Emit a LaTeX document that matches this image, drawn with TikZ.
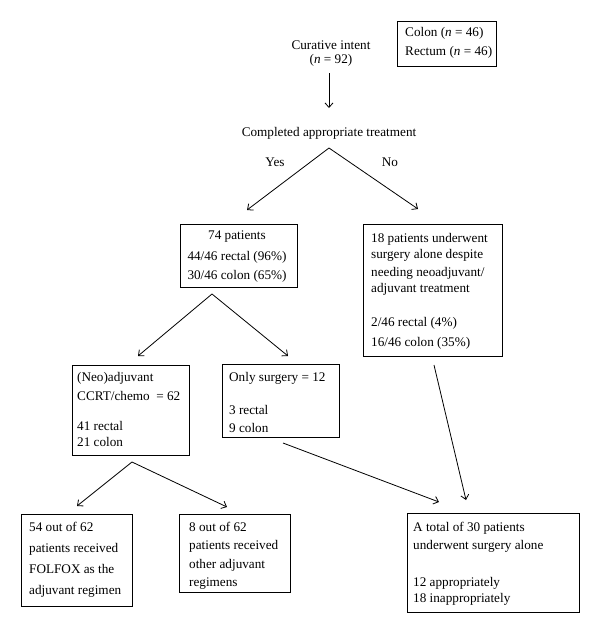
\documentclass[tikz,border=0pt]{standalone}
\usepackage{fontspec}
\setmainfont{Liberation Serif}
\usetikzlibrary{arrows.meta}
\begin{document}
\begin{tikzpicture}[x=1pt,y=-1pt,
  box/.style={draw, line width=0.9pt, inner sep=0pt, anchor=north west},
  txt/.style={inner sep=0pt, anchor=north west, align=left, font=\fontsize{13.2}{17}\selectfont},
  lbl/.style={inner sep=0pt, font=\fontsize{13.2}{17}\selectfont},
  arr/.style={-{Straight Barb[length=4.5pt,width=8pt]}, line width=0.8pt},
  ln/.style={line width=0.8pt}]
\useasboundingbox (0,0) rectangle (600,633);

% boxes
\node[box, minimum width=99pt, minimum height=45pt] (bcr) at (397,21) {};
\node[box, minimum width=117pt, minimum height=63pt] (b74) at (180,224) {};
\node[box, minimum width=139pt, minimum height=132pt] (b18) at (363,224) {};
\node[box, minimum width=117pt, minimum height=90pt] (bneo) at (72,365) {};
\node[box, minimum width=117pt, minimum height=73pt] (bonly) at (222,364) {};
\node[box, minimum width=111pt, minimum height=92pt] (b54) at (21,514) {};
\node[box, minimum width=111pt, minimum height=78pt] (b8) at (179,514) {};
\node[box, minimum width=172pt, minimum height=99pt] (btot) at (407,513) {};

% texts
\node[txt] (tcr) at (405,24.1) {\strut Colon (\textit{n} = 46)\\[2pt]Rectum (\textit{n} = 46)};
\node[txt, anchor=north, align=center] (tcur) at (331,37.1) {\strut Curative intent\\[-3pt](\textit{n} = 92)};
\node[lbl, anchor=base] (tcomp) at (329,136.5) {Completed appropriate treatment};
\node[lbl, anchor=base] (tyes) at (275,166) {Yes};
\node[lbl, anchor=base] (tno) at (390,166) {No};
\node[txt, anchor=north, align=center] (t74) at (237,227.1) {\strut 74 patients\\[4pt]44/46 rectal (96\%)\\[2pt]30/46 colon (65\%)};
\node[txt] (t18) at (371,230.1) {\strut 18 patients underwent\\[-1pt]surgery alone despite\\[1pt]needing neoadjuvant/\\[-1pt]adjuvant treatment\\[17pt]2/46 rectal (4\%)\\[3pt]16/46 colon (35\%)};
\node[txt] (tneo) at (77,369.1) {\strut (Neo)adjuvant\\[2pt]CCRT/chemo~~= 62\\[13pt]41 rectal\\[-1pt]21 colon};
\node[txt] (tonly) at (229,369.1) {\strut Only surgery = 12\\[16pt]3 rectal\\[1pt]9 colon};
\node[txt] (t54) at (29,519.1) {\strut 54 out of 62\\[4pt]patients received\\[4pt]FOLFOX as the\\[4pt]adjuvant regimen};
\node[txt] (t8) at (189,519.1) {\strut 8 out of 62\\[1pt]patients received\\[2pt]other adjuvant\\[1pt]regimens};
\node[txt] (ttot) at (413,519.1) {\strut A total of 30 patients\\[1pt]underwent surgery alone\\[20pt]12 appropriately\\[-1pt]18 inappropriately};

% connector points
\coordinate (c0) at (329,73);
\coordinate (c1) at (329,108);
\coordinate (s1) at (329,148);
\coordinate (e1l) at (247,210);
\coordinate (e1r) at (418,209);
\coordinate (s2) at (212,294);
\coordinate (e2l) at (138,356);
\coordinate (e2r) at (288,356);
\coordinate (s3) at (132,462);
\coordinate (e3l) at (77,506);
\coordinate (e3r) at (227,507);
\coordinate (s4) at (283,443);
\coordinate (e4) at (439,502);
\coordinate (s5) at (434,365);
\coordinate (e5) at (466,500);

\draw[arr] (c0) -- (c1);
\draw[arr] (s1) -- (e1l);
\draw[arr] (s1) -- (e1r);
\draw[arr] (s2) -- (e2l);
\draw[arr] (s2) -- (e2r);
\draw[arr] (s3) -- (e3l);
\draw[arr] (s3) -- (e3r);
\draw[arr] (s4) -- (e4);
\draw[arr] (s5) -- (e5);
\end{tikzpicture}
\end{document}
